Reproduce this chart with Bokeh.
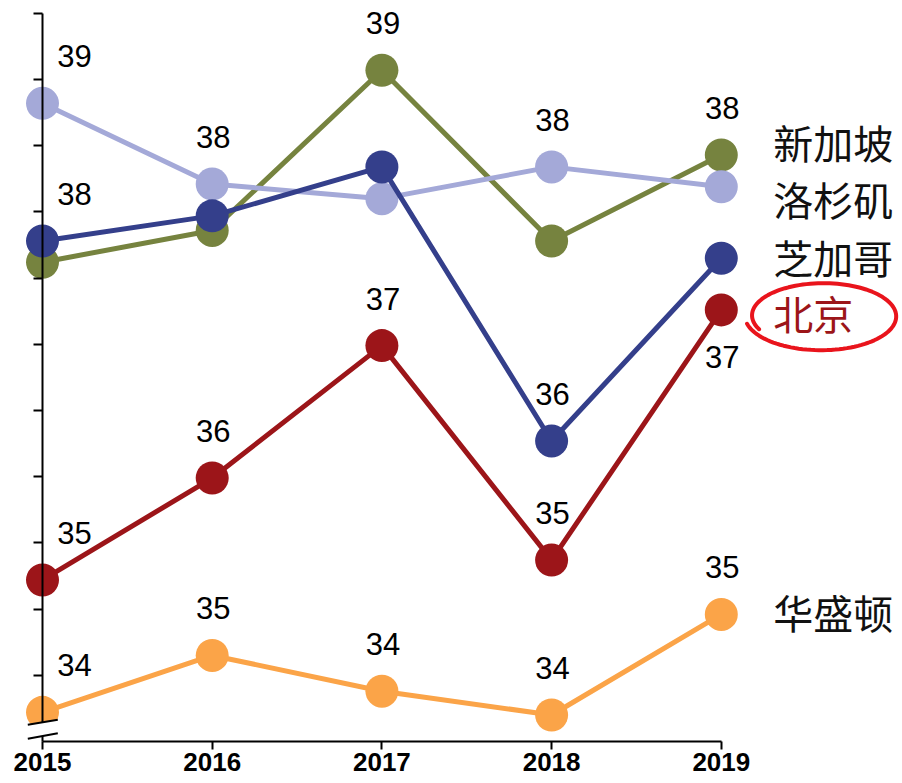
import math
from bokeh.plotting import figure
from bokeh.models import FixedTicker, ColumnDataSource
from bokeh.core.properties import value
from bokeh.embed import file_html
from bokeh.resources import INLINE

# ---------------- data ----------------
years = [2015, 2016, 2017, 2018, 2019]
singapore = [37.62, 37.86, 39.07, 37.78, 38.43]
los_angeles = [38.82, 38.21, 38.10, 38.34, 38.19]
chicago = [37.78, 37.97, 38.34, 36.27, 37.65]
beijing = [35.22, 35.99, 36.99, 35.37, 37.26]
washington = [34.22, 34.65, 34.38, 34.20, 34.96]
city_names = ["新加坡", "洛杉矶", "芝加哥", "北京", "华盛顿"]
# value labels shown: 1 above the point, -1 below, 0 none
label_singapore = [0, 0, 1, 0, 1]
label_los_angeles = [1, 1, 0, 1, 0]
label_chicago = [1, 0, 0, 1, 0]
label_beijing = [1, 1, 1, 1, -1]
label_washington = [1, 1, 1, 1, 1]
y_ticks = [34.5, 35.0, 35.5, 36.0, 36.5, 37.0, 37.5, 38.0, 38.5, 39.0, 39.5]

# ---------------- styles / geometry ----------------
colors = ["#76833F", "#A4A9D8", "#343F8B", "#9C1519", "#FBA448"]
name_colors = ["#111111", "#111111", "#111111", "#9C1519", "#111111"]
name_dy = [-13, 12, -1, 3, -2]
W, H = 902, 783
PX_YEAR = 169.7
PX_UNIT = 132.4
AX_X = 42.0     # canvas px of 2015 / y-axis
AX_Y = 741.0    # canvas px of y = 34 / x-axis
x_start = years[0] - AX_X / PX_YEAR
x_end = x_start + W / PX_YEAR
y_end = 34.0 + AX_Y / PX_UNIT
y_start = y_end - H / PX_UNIT


def dx(px):
    return x_start + px / PX_YEAR


def dy(py):
    return y_end - py / PX_UNIT


p = figure(width=W, height=H, x_range=(x_start, x_end), y_range=(y_start, y_end),
           output_backend="svg", toolbar_location=None, title=None,
           min_border=0, min_border_left=0, min_border_right=0,
           min_border_top=0, min_border_bottom=0)
p.outline_line_color = None
p.grid.visible = False
p.background_fill_color = "white"
p.border_fill_color = "white"

xa = p.xaxis[0]
xa.fixed_location = 34.0
xa.bounds = (years[0], years[-1])
xa.ticker = FixedTicker(ticks=years)
xa.axis_line_width = 2
xa.axis_line_color = "black"
xa.major_tick_line_width = 2
xa.major_tick_line_color = "black"
xa.major_tick_in = 0
xa.major_tick_out = 8
xa.minor_tick_line_color = None
xa.major_label_standoff = 3
xa.major_label_text_font = "Liberation Sans"
xa.major_label_text_font_style = "bold"
xa.major_label_text_font_size = "26px"
xa.major_label_text_color = "black"

ya = p.yaxis[0]
ya.fixed_location = years[0]
ya.bounds = (34.0, 39.5)
ya.ticker = FixedTicker(ticks=y_ticks)
ya.axis_line_width = 2
ya.axis_line_color = "black"
ya.major_tick_line_width = 2
ya.major_tick_line_color = "black"
ya.major_tick_in = 0
ya.major_tick_out = 9
ya.minor_tick_line_color = None
ya.major_label_text_color = None
ya.major_label_text_font_size = "10px"

series = [singapore, los_angeles, chicago, beijing, washington]
flags = [label_singapore, label_los_angeles, label_chicago, label_beijing, label_washington]

for vals, c in zip(series, colors):
    p.line(years, vals, line_color=c, line_width=5)
    p.scatter(years, vals, size=33, fill_color=c, line_color=None)

lx, ly, lt, lxo, lyo = [], [], [], [], []
for vals, fl in zip(series, flags):
    for i, (yr, v, f) in enumerate(zip(years, vals, fl)):
        if f == 0:
            continue
        lx.append(yr)
        ly.append(v)
        lt.append(f"{v:.0f}")
        lxo.append(32 if i == 0 else 1)
        lyo.append(-47 if f > 0 else 47)
src = ColumnDataSource(dict(x=lx, y=ly, text=lt, xo=lxo, yo=lyo))
p.text(x="x", y="y", text="text", x_offset="xo", y_offset="yo", source=src,
       text_font=value("Liberation Sans"), text_font_size="31px",
       text_align="center", text_baseline="middle", text_color="black")

last = [s[-1] for s in series]
nsrc = ColumnDataSource(dict(x=[years[-1]] * 5, y=last, text=city_names,
                             yo=name_dy, c=name_colors))
p.text(x="x", y="y", text="text", x_offset=52, y_offset="yo", source=nsrc,
       text_font=value("Noto Sans CJK SC"), text_font_size="40px",
       text_align="left", text_baseline="middle", text_color="c")

# hand-drawn circle round 北京
cx_px = (years[-1] - x_start) * PX_YEAR + 101
cy_px = (y_end - beijing[-1]) * PX_UNIT + 6
ex, ey = [], []
n = 120
for k in range(n + 1):
    t = k / n
    th = math.radians(205) - t * math.radians(372)
    r = 0.93 + 0.10 * t
    ex.append(dx(cx_px + 75 * r * math.cos(th)))
    ey.append(dy(cy_px - 34 * r * math.sin(th)))
p.line(ex, ey, line_color="#E9141C", line_width=4, line_cap="round")

# axis break marks
bx0, bx1 = AX_X - 14.7, AX_X + 15.3
gap = p.patch([dx(bx0), dx(bx1), dx(bx1), dx(bx0)],
              [dy(AX_Y - 16.7), dy(AX_Y - 21.7), dy(AX_Y - 8.3), dy(AX_Y - 2.7)],
              fill_color="white", line_color=None)
gap.level = "overlay"
seg = p.segment(x0=[dx(bx0), dx(bx0)], y0=[dy(AX_Y - 16.7), dy(AX_Y - 2.7)],
                x1=[dx(bx1), dx(bx1)], y1=[dy(AX_Y - 21.7), dy(AX_Y - 8.3)],
                line_color="black", line_width=2)
seg.level = "overlay"

open("out.html", "w").write(file_html(p, INLINE))
